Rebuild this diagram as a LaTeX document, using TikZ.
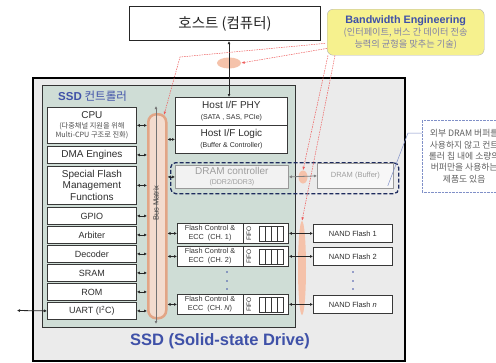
\documentclass[tikz,border=0pt]{standalone}
\usepackage{fontspec}
\setmainfont{Liberation Sans}
\newfontfamily\kr{Noto Sans CJK KR}
\usetikzlibrary{arrows.meta,calc,shapes.geometric}
\definecolor{ssdfill}{HTML}{EBEBEB}
\definecolor{ctrlfill}{HTML}{CFDDD6}
\definecolor{busfill}{HTML}{F3DCCF}
\definecolor{busdraw}{HTML}{E2A586}
\definecolor{salmon}{HTML}{F5C2AA}
\definecolor{titleblue}{HTML}{3F51A8}
\definecolor{bwyellow}{HTML}{F6F18E}
\definecolor{bwgray}{HTML}{8080A8}
\definecolor{reddot}{HTML}{EE5A5A}
\definecolor{navy}{HTML}{1E2B5E}
\definecolor{noteblue}{HTML}{8090C8}
\tikzset{
  box/.style={draw=black!78, fill=white, line width=0.8pt, inner sep=0pt, anchor=north west, align=center, text=black!82},
  graybox/.style={draw=black!40, fill=black!5, line width=0.8pt, inner sep=0pt, anchor=north west, align=center, text=black!38},
  tip/.tip={Latex[length=3pt,width=3pt]},
  dbl/.style={tip-tip, line width=0.8pt, draw=black!85},
  reddash/.style={draw=reddot, dash pattern=on 1.5pt off 1pt, line width=0.5pt},
  redtip/.style={-{Latex[length=3.5pt,width=2.5pt]}},
}
\begin{document}
\begin{tikzpicture}[x=1pt,y=-1pt]
\clip (0,0) rectangle (496,362);
\fill[white] (0,0) rectangle (496,362);

% host
\node[box, line width=1pt, draw=black!85, minimum width=191pt, minimum height=34pt, font=\kr\fontsize{14.5}{16}\selectfont, text=black!85] (host) at (129,6) {호스트 (컴퓨터)};

% bandwidth callout
\node[anchor=north west, draw=black!30, fill=bwyellow, rounded corners=6pt, minimum width=157pt, minimum height=46pt, inner sep=0pt, align=center, font=\fontsize{9.2}{13}\selectfont] (bw) at (327,9)
 {{\fontsize{10.8}{13}\selectfont\bfseries\color{titleblue}Bandwidth Engineering}\\[-1pt]{\kr\color{bwgray}(인터페이트, 버스 간 데이터 전송}\\[-1pt]{\kr\color{bwgray}능력의 균형을 맞추는 기술)}};

% SSD box
\node[anchor=north west, draw=black, line width=1.8pt, fill=ssdfill, minimum width=372pt, minimum height=283pt, inner sep=0pt] (ssd) at (32,77) {};
% controller
\node[anchor=north west, draw=black!80, line width=1.1pt, fill=ctrlfill, minimum width=253pt, minimum height=242pt, inner sep=0pt] (ctrl) at (42,85) {};
\node[anchor=west, text=titleblue, inner sep=0pt] (ctrltitle) at (58,96) {{\fontsize{11.5}{13}\selectfont\bfseries SSD} {\kr\fontsize{11.5}{13}\selectfont 컨트롤러}};
\node[text=titleblue, font=\fontsize{16.5}{19}\selectfont\bfseries, inner sep=0pt] (ssdtitle) at (220,341) {SSD (Solid-state Drive)};

% salmon highlights
\node[ellipse, fill=salmon, minimum width=24pt, minimum height=11pt, inner sep=0pt] (hostell) at (229,63) {};
\node[ellipse, fill=salmon, minimum width=9pt, minimum height=13pt, inner sep=0pt] (dramell) at (303,177) {};
\node[ellipse, fill=salmon, minimum width=8pt, minimum height=94pt, inner sep=0pt] (nandell) at (302,268) {};

% bus matrix
\node[anchor=north west, draw=busdraw, line width=2.5pt, fill=busfill, rounded corners=8pt, minimum width=18pt, minimum height=204pt, inner sep=0pt] (bus) at (147,113) {};
\coordinate (bustop) at (156,106);
\coordinate (busbot) at (156,324);
\draw[tip-tip, draw=black!55, line width=0.7pt] (bustop) -- (busbot);
\node[rotate=90, font=\fontsize{7.5}{8}\selectfont, text=black!75, inner sep=0pt] (buslabel) at (156,203) {Bus Matrix};

% left column
\node[box, minimum width=89pt, minimum height=36pt] (cpu) at (47,107)
 {{\fontsize{10}{11}\selectfont CPU}\\[-2pt]{\kr\fontsize{7.2}{7.5}\selectfont\color{black!70}(다중채널 지원을 위해}\\[-3pt]{\kr\fontsize{7.2}{7.5}\selectfont\color{black!70}Multi-CPU 구조로 진화)}};
\node[box, minimum width=89pt, minimum height=17pt, font=\fontsize{10}{11}\selectfont] (dma) at (47,146) {DMA Engines};
\node[box, minimum width=89pt, minimum height=38pt, font=\fontsize{10}{11.5}\selectfont] (sfm) at (47,166) {Special Flash\\Management\\Functions};
\node[box, minimum width=89pt, minimum height=17pt, font=\fontsize{9}{10}\selectfont] (gpio) at (47,207) {GPIO};
\node[box, minimum width=89pt, minimum height=17pt, font=\fontsize{9}{10}\selectfont] (arb) at (47,226) {Arbiter};
\node[box, minimum width=89pt, minimum height=17pt, font=\fontsize{9}{10}\selectfont] (dec) at (47,245) {Decoder};
\node[box, minimum width=89pt, minimum height=17pt, font=\fontsize{9}{10}\selectfont] (sram) at (47,264) {SRAM};
\node[box, minimum width=89pt, minimum height=17pt, font=\fontsize{9}{10}\selectfont] (rom) at (47,283) {ROM};
\node[box, minimum width=89pt, minimum height=17pt, font=\fontsize{9}{10}\selectfont] (uart) at (47,302) {UART (I\textsuperscript{2}C)};
\coordinate (uartext) at (17,310.5);

% host interface
\node[box, minimum width=112pt, minimum height=28pt] (phy) at (175,97)
 {{\fontsize{10}{11}\selectfont Host I/F PHY}\\[-1pt]{\fontsize{7}{8}\selectfont (SATA , SAS, PCIe)}};
\node[box, minimum width=112pt, minimum height=28pt] (logic) at (175,125)
 {{\fontsize{10}{11}\selectfont Host I/F Logic}\\[-1pt]{\fontsize{7}{8}\selectfont (Buffer \& Controller)}};

% DRAM area
\node[anchor=north west, draw=navy, dash pattern=on 4pt off 2pt, line width=1.3pt, rounded corners=5pt, minimum width=228pt, minimum height=31pt, inner sep=0pt] (dbox) at (170,162) {};
\node[graybox, minimum width=113pt, minimum height=23pt] (dramc) at (175,165)
 {{\fontsize{10}{11}\selectfont DRAM controller}\\[-2pt]{\fontsize{7}{8}\selectfont (DDR2/DDR3)}};
\node[graybox, fill=black!3, minimum width=76pt, minimum height=25pt, font=\fontsize{7.5}{9}\selectfont] (dramb) at (317,163) {DRAM (Buffer)};

% flash channels
\foreach \i/\y/\lab in {1/223/{ECC\ \ (CH. 1)}, 2/246/{ECC\ \ (CH. 2)}, 3/294/{ECC\ \ (CH. \textit{N})}} {
  \node[box, minimum width=111pt, minimum height=20pt] (fc\i) at (177,\y) {};
  \node[font=\fontsize{7.3}{9.3}\selectfont, align=center, inner sep=0pt, text=black!80] (fct\i) at ($(fc\i.west)+(33,0)$) {Flash Control \&\\\lab};
  \node[rotate=90, font=\fontsize{6.5}{7}\selectfont, inner sep=0pt, text=black!80] (fcf\i) at ($(fc\i.west)+(72,0)$) {FIFO};
  \draw[line width=0.6pt, black!78] ($(fc\i.north west)+(66,0)$) -- ($(fc\i.south west)+(66,0)$);
  \draw[line width=0.6pt, black!78] ($(fc\i.west)+(82,-7.5)$) rectangle ($(fc\i.west)+(106,7.5)$);
  \foreach \xx in {88,94,100} {\draw[line width=0.6pt, black!78] ($(fc\i.west)+(\xx,-7.5)$) -- ($(fc\i.west)+(\xx,7.5)$);}
}
\foreach \i/\y/\lab in {1/224/1, 2/247/2, 3/295/\textit{n}} {
  \node[box, minimum width=79pt, minimum height=18pt, font=\fontsize{7.5}{9}\selectfont] (nand\i) at (313,\y) {NAND Flash \lab};
}
\foreach \yy in {272,281,289} {
  \fill[titleblue] (227,\yy) circle (0.9);
  \fill[titleblue] (353,\yy) circle (0.9);
}

% note
\node[anchor=north west, draw=noteblue, densely dotted, fill=white, minimum width=84pt, minimum height=72pt, inner sep=0pt, align=center, text=black!62, font=\kr\fontsize{8.8}{11.3}\selectfont] (note) at (422,120)
 {외부 DRAM 버퍼를\\사용하지 않고 컨트\\롤러 칩 내에 소량의\\버퍼만을 사용하는\\제품도 있음};
\draw[noteblue, line width=0.5pt] ($(note.north west)+(0,13)$) -- ++(-14,0) -- ($(dramb.south east)+(-6,-3)$);

% connectors
\draw[dbl] (host.south -| hostell.center) -- (phy.north -| hostell.center);
\foreach \n in {cpu,dma,sfm,gpio,arb,dec,sram,rom,uart} {\draw[dbl] (\n.east) -- (\n.east -| bus.west);}
\draw[dbl] (uartext) -- (uart.west);
\draw[dbl] (bus.east |- logic.west) -- (logic.west);
\draw[dbl] (bus.east |- dramc.west) -- (dramc.west);
\draw[dbl, draw=black!50] (dramc.east) -- (dramb.west);
\foreach \i in {1,2,3} {
  \draw[dbl] (bus.east |- fc\i.west) -- (fc\i.west);
  \draw[dbl] (fc\i.east) -- (nand\i.west);
}

% red dotted pointers
\coordinate (bend) at (180,57);
\coordinate (bustip) at (164,115);
\draw[reddash, redtip] ($(bw.south west)+(-2,-12)$) -- (bend) -- (bustip);
\draw[reddash, redtip] ($(bw.south west)+(0,-7)$) -- (hostell.east);
\draw[reddash, redtip] ($(bw.south west)+(1,0)$) -- (dramell.north);
\draw[reddash, redtip] ($(bw.south west)+(8,0)$) -- (nandell.north);
\end{tikzpicture}
\end{document}
